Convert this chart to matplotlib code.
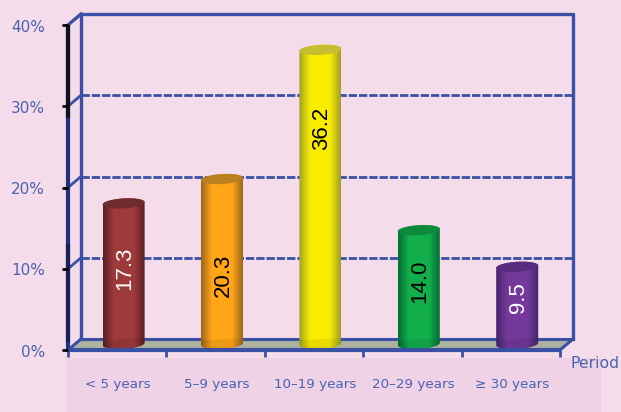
import numpy as np
import matplotlib
matplotlib.use('Agg')
import matplotlib.pyplot as plt
from matplotlib.patches import Polygon, Rectangle
from matplotlib.colors import LinearSegmentedColormap

# data
periods = ['< 5 years', '5\u20139 years', '10\u201319 years', '20\u201329 years', '\u2265 30 years']
values = [17.3, 20.3, 36.2, 14.0, 9.5]
value_labels = ['17.3', '20.3', '36.2', '14.0', '9.5']
label_colors = ['white', 'black', 'black', 'black', 'white']
label_at = [10.1, 9.2, 27.3, 8.5, 6.4]
y_ticks = [0, 10, 20, 30, 40]
y_tick_labels = ['0%', '10%', '20%', '30%', '40%']

# edge, middle and top colours of each cylinder
edge_colors = ['#5A2022', '#A0661C', '#A3A024', '#056E34', '#45246E']
mid_colors = ['#9E3A3C', '#FFA516', '#F8EC00', '#12AE4C', '#74399A']
top_colors = ['#6E2C2E', '#B8801E', '#C4BE30', '#0B8A3C', '#572C80']

BLUE = '#3A50A4'
TEXT = '#4A62AE'
BG = '#F4DCEA'

plt.rcParams['font.family'] = ['DejaVu Sans']

fig = plt.figure(figsize=(6.21, 4.12), dpi=100, facecolor=BG)
ax = fig.add_axes([68 / 621, (412 - 350) / 412, 492 / 621, 325 / 412])
ax.axis('off')

# depth of the box, in data units
dx = 13 / 98.4
dy = 11 / 8.125

# band behind the category labels
ax.add_patch(Rectangle((-2 / 98.4, -62 * 40 / 325), 535 / 98.4, 54 * 40 / 325,
                       facecolor='#EFD2E6', edgecolor='none', clip_on=False, zorder=0))

# floor
ax.add_patch(Polygon([(0, 0), (5, 0), (5 + dx, dy), (dx, dy)], closed=True,
                     facecolor='#ADB2A0', edgecolor='none', clip_on=False, zorder=1))

# back wall
for t in y_ticks[1:-1]:
    ax.plot([dx, 5 + dx], [t + dy, t + dy], color=BLUE, lw=2, ls=(0, (3, 0.7)),
            clip_on=False, zorder=2)
    ax.plot([0, dx], [t, t + dy], color=BLUE, lw=2, clip_on=False, zorder=2)
ax.plot([dx, dx, 5 + dx, 5 + dx], [dy, 40 + dy, 40 + dy, dy], color=BLUE, lw=2.4,
        clip_on=False, zorder=2)
ax.plot([0, dx], [40, 40 + dy], color=BLUE, lw=2.4, clip_on=False, zorder=2)
ax.plot([dx, 5 + dx], [dy, dy], color=BLUE, lw=2.2, clip_on=False, zorder=2)
ax.plot([0, dx], [0, dy], color=BLUE, lw=2.2, clip_on=False, zorder=2)
ax.plot([5, 5 + dx], [0, dy], color=BLUE, lw=2.2, clip_on=False, zorder=2)

# cylinders, the ellipses lean up to the right
half_w = 21 / 98.4
ell_h = 5 / 8.125
base = 6 / 8.125
tilt = 0.7
t_ell = np.linspace(0, np.pi, 40)
te = np.linspace(0, 2 * np.pi, 80)
for i, v in enumerate(values):
    cx = i + 0.565
    top = v + base
    tx = cx - half_w * np.cos(t_ell)
    bx = cx + half_w * np.cos(t_ell)
    xs = np.concatenate([tx, bx])
    ys = np.concatenate([top + ell_h * np.sin(t_ell) + tilt * (tx - cx),
                         base - ell_h * np.sin(t_ell) + tilt * (bx - cx)])
    body = Polygon(np.column_stack([xs, ys]), closed=True, facecolor='none',
                   edgecolor='none', clip_on=False)
    ax.add_patch(body)
    cmap = LinearSegmentedColormap.from_list('c', [(0, edge_colors[i]), (0.25, mid_colors[i]),
                                                   (0.75, mid_colors[i]), (1, edge_colors[i])])
    grad = np.linspace(0, 1, 64).reshape(1, -1)
    im = ax.imshow(grad, cmap=cmap, aspect='auto', zorder=3, interpolation='bilinear',
                   extent=[cx - half_w, cx + half_w, base - 2 * ell_h, top + 2 * ell_h])
    im.set_clip_path(body)
    # darker lip at the foot
    lip = Polygon(np.column_stack([xs, np.concatenate([base + 0.6 + tilt * (tx - cx), ys[40:]])]),
                  closed=True, facecolor='black', alpha=0.07, edgecolor='none',
                  clip_on=False, zorder=4)
    ax.add_patch(lip)
    # top ellipse
    ex = cx + half_w * np.cos(te)
    ax.add_patch(Polygon(np.column_stack([ex, top + ell_h * np.sin(te) + tilt * (ex - cx)]),
                         closed=True, facecolor=top_colors[i], edgecolor='none',
                         clip_on=False, zorder=4))
    ax.text(cx + 0.012, label_at[i], value_labels[i], rotation=90, ha='center', va='center',
            color=label_colors[i], fontsize=16, family='Liberation Sans', zorder=5)

ax.set_xlim(0, 5)
ax.set_ylim(0, 40)

# front axes
ax.plot([0, 0], [0, 40], color='#26307E', lw=3, clip_on=False, zorder=6, solid_capstyle='butt')
ax.plot([0, 0], [28.5, 40], color='#111122', lw=3, clip_on=False, zorder=6, solid_capstyle='butt')
ax.plot([0, 0], [1, 13], color='#1A1F55', lw=3, clip_on=False, zorder=6, solid_capstyle='butt')
ax.plot([0, 5], [0, 0], color=BLUE, lw=3, clip_on=False, zorder=6, solid_capstyle='butt')

for t, lab in zip(y_ticks, y_tick_labels):
    ax.plot([-6 / 98.4, 0], [t, t], color='black', lw=2, clip_on=False, zorder=7, solid_capstyle='butt')
    ax.text(-23 / 98.4, t - 0.25, lab, ha='right', va='center', color=TEXT,
            fontsize=11, clip_on=False)

for i in range(6):
    ax.plot([i, i], [0, -0.8], color=BLUE, lw=2, clip_on=False, zorder=6, solid_capstyle='butt')

for i, lab in enumerate(periods):
    ax.text(i + 0.51, -4.2, lab, ha='center', va='center', color=TEXT, fontsize=9.7, clip_on=False)
ax.text(503 / 98.4, -1.6, 'Period', ha='left', va='center', color=TEXT, fontsize=11.3, clip_on=False)

fig.savefig('out.png', dpi=100, facecolor=BG)
